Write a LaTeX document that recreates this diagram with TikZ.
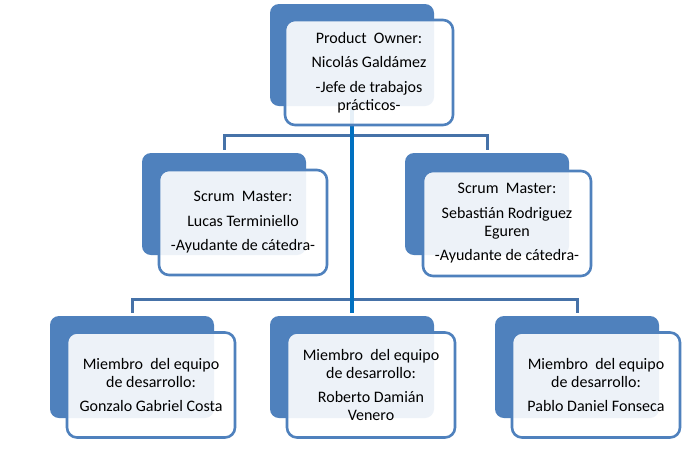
\documentclass[tikz,border=0pt]{standalone}
\usepackage{fontspec}
\setmainfont{Carlito}
\usepackage{tikz}
\usepackage{xcolor}
\usetikzlibrary{positioning}
\definecolor{SA_Blue}{HTML}{4F81BD}
\definecolor{SA_Line}{HTML}{4672A8}
\definecolor{SA_Main}{HTML}{0070C0}

\tikzset{
  backbox/.style={fill=SA_Blue, rounded corners=9pt, minimum width=164pt, minimum height=102pt, inner sep=0pt},
  frontbox/.style={draw=SA_Blue, line width=2.6pt, fill=white, fill opacity=0.9, text opacity=1,
    rounded corners=10pt, minimum width=168pt, minimum height=105pt, inner sep=0pt,
    align=center, font=\fontsize{16}{18}\selectfont},
  link/.style={SA_Line, line width=3pt, shorten <=3pt, shorten >=3pt},
  mainlink/.style={SA_Main, line width=3.4pt, shorten >=3pt},
}

\begin{document}
\begin{tikzpicture}[x=1pt, y=-1pt]
    \useasboundingbox[fill=white] (0,0) rectangle (700,456);
    % back boxes
    \node[backbox] (po back) at (352,55) {};
    \node[backbox] (smL back) at (224,204) {};
    \node[backbox] (smR back) at (487,204) {};
    \node[backbox] (dev1 back) at (132,367) {};
    \node[backbox] (dev2 back) at (352,367) {};
    \node[backbox] (dev3 back) at (577,367) {};
    % connectors
    \coordinate (bus1) at (352,135);
    \coordinate (bus2) at (352,299);
    \draw[link] (smL back.north) |- (bus1) -| (smR back.north);
    \draw[link] (dev1 back.north) |- (bus2) -| (dev3 back.north);
    \draw[mainlink] (po back.south) -- (dev2 back.north);
    % front boxes
    \node[frontbox] (po) at (369,72.5) {Product\ \ Owner:\\[6.5pt]Nicolás Galdámez\\[6.5pt]-Jefe de trabajos\\prácticos-};
    \node[frontbox] (smL) at (243,222.5) {Scrum\ \ Master:\\[6.5pt]Lucas Terminiello\\[6.5pt]-Ayudante de cátedra-};
    \node[frontbox] (smR) at (507,223.5) {Scrum\ \ Master:\\[6.5pt]Sebastián Rodriguez\\Eguren\\[6.5pt]-Ayudante de cátedra-};
    \node[frontbox] (dev1) at (151,385) {Miembro\ \ del equipo\\de desarrollo:\\[6.5pt]Gonzalo Gabriel Costa};
    \node[frontbox] (dev2) at (371,385) {Miembro\ \ del equipo\\de desarrollo:\\[6.5pt]Roberto Damián\\Venero};
    \node[frontbox] (dev3) at (596,385) {Miembro\ \ del equipo\\de desarrollo:\\[6.5pt]Pablo Daniel Fonseca};
\end{tikzpicture}
\end{document}
